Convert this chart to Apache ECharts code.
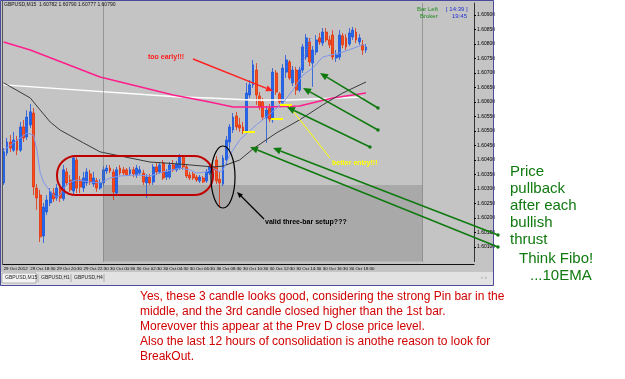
<!DOCTYPE html>
<html><head><meta charset="utf-8">
<script src="https://cdn.jsdelivr.net/npm/echarts@6/dist/echarts.min.js"></script>
<style>html,body{margin:0;padding:0;background:#fff}#c{width:625px;height:379px}</style>
</head><body><div id="c"></div>
<script>
// ---- data (GBPUSD M15, 29 Oct 16:30 .. 30 Oct 19:45) ----
const opens = [
1.60321,1.60424,1.60462,1.60434,1.60469,1.60434,1.60514,1.60479,1.60521,1.60562,
1.60303,1.60279,1.60138,1.60221,1.60252,1.60286,1.60269,1.60303,1.60266,1.60359,
1.60331,1.60293,1.60400,1.60331,1.60303,1.60321,1.60352,1.60317,1.60328,1.60303,
1.60321,1.60362,1.60372,1.60359,1.60286,1.60372,1.60366,1.60366,1.60352,1.60366,
1.60348,1.60355,1.60355,1.60321,1.60341,1.60324,1.60376,1.60359,1.60390,1.60341,
1.60341,1.60383,1.60366,1.60372,1.60410,1.60376,1.60348,1.60352,1.60341,1.60328,
1.60338,1.60328,1.60355,1.60376,1.60400,1.60334,1.60317,1.60400,1.60462,1.60503,
1.60552,1.60521,1.60514,1.60500,1.60624,1.60659,1.60710,1.60621,1.60600,1.60545,
1.60579,1.60538,1.60700,1.60628,1.60597,1.60703,1.60738,1.60666,1.60710,1.60641,
1.60710,1.60755,1.60807,1.60734,1.60772,1.60821,1.60803,1.60841,1.60814,1.60831,
1.60752,1.60755,1.60828,1.60821,1.60800,1.60824,1.60841,1.60807,1.60797,1.60779];
const highs = [
1.60441,1.60476,1.60486,1.60497,1.60483,1.60531,1.60538,1.60572,1.60593,1.60579,
1.60317,1.60297,1.60252,1.60279,1.60303,1.60303,1.60317,1.60314,1.60383,1.60372,
1.60348,1.60414,1.60414,1.60345,1.60359,1.60372,1.60366,1.60359,1.60338,1.60334,
1.60379,1.60383,1.60383,1.60369,1.60376,1.60383,1.60376,1.60372,1.60376,1.60376,
1.60383,1.60379,1.60366,1.60352,1.60352,1.60386,1.60390,1.60393,1.60400,1.60369,
1.60393,1.60400,1.60397,1.60421,1.60417,1.60383,1.60359,1.60359,1.60348,1.60348,
1.60345,1.60369,1.60383,1.60393,1.60414,1.60359,1.60417,1.60483,1.60524,1.60562,
1.60566,1.60545,1.60531,1.60666,1.60676,1.60745,1.60734,1.60634,1.60614,1.60586,
1.60593,1.60717,1.60710,1.60634,1.60731,1.60762,1.60745,1.60724,1.60721,1.60721,
1.60800,1.60834,1.60821,1.60793,1.60831,1.60838,1.60855,1.60855,1.60828,1.60848,
1.60779,1.60848,1.60838,1.60834,1.60855,1.60859,1.60855,1.60834,1.60814,1.60800];
const lows = [
1.60314,1.60414,1.60428,1.60428,1.60417,1.60428,1.60462,1.60469,1.60510,1.60279,
1.60228,1.60117,1.60114,1.60210,1.60241,1.60255,1.60259,1.60255,1.60259,1.60310,
1.60290,1.60279,1.60286,1.60286,1.60290,1.60310,1.60314,1.60307,1.60290,1.60297,
1.60310,1.60352,1.60355,1.60262,1.60279,1.60348,1.60348,1.60345,1.60345,1.60341,
1.60338,1.60348,1.60314,1.60269,1.60314,1.60314,1.60348,1.60352,1.60331,1.60331,
1.60334,1.60359,1.60359,1.60366,1.60366,1.60338,1.60331,1.60331,1.60324,1.60321,
1.60321,1.60321,1.60348,1.60359,1.60317,1.60235,1.60310,1.60383,1.60434,1.60493,
1.60503,1.60497,1.60490,1.60490,1.60614,1.60648,1.60590,1.60572,1.60538,1.60459,
1.60531,1.60528,1.60624,1.60593,1.60586,1.60683,1.60676,1.60655,1.60624,1.60634,
1.60700,1.60745,1.60724,1.60652,1.60762,1.60797,1.60793,1.60807,1.60786,1.60745,
1.60738,1.60745,1.60786,1.60779,1.60793,1.60814,1.60803,1.60797,1.60762,1.60769];
const closes = [
1.60428,1.60462,1.60441,1.60469,1.60434,1.60514,1.60476,1.60548,1.60566,1.60307,
1.60269,1.60135,1.60238,1.60262,1.60290,1.60266,1.60303,1.60269,1.60366,1.60321,
1.60297,1.60407,1.60303,1.60307,1.60338,1.60359,1.60324,1.60338,1.60303,1.60321,
1.60366,1.60372,1.60362,1.60290,1.60366,1.60355,1.60355,1.60348,1.60366,1.60352,
1.60372,1.60366,1.60324,1.60341,1.60321,1.60376,1.60359,1.60383,1.60338,1.60359,
1.60383,1.60366,1.60386,1.60410,1.60376,1.60345,1.60338,1.60338,1.60331,1.60341,
1.60324,1.60359,1.60376,1.60366,1.60328,1.60321,1.60407,1.60469,1.60514,1.60548,
1.60514,1.60510,1.60500,1.60631,1.60659,1.60728,1.60624,1.60583,1.60548,1.60572,
1.60541,1.60703,1.60634,1.60600,1.60717,1.60745,1.60683,1.60710,1.60641,1.60710,
1.60790,1.60821,1.60738,1.60779,1.60814,1.60807,1.60841,1.60814,1.60797,1.60755,
1.60762,1.60831,1.60797,1.60790,1.60838,1.60848,1.60814,1.60821,1.60779,1.60790];

// indicator lines (values read at a few bars)
const emaIdx = [0,3,7,9,10,11,12,13,15,16,17,18,20,22,26,29,32,35,40,44,48,53,56,58,61,63,65,66,68,71,76,79,84,87,90,93,96,102,108,109];
const emaVal = [1.60434,1.60459,1.60493,1.60486,1.60434,1.60355,1.60324,1.60307,1.60279,1.60272,
1.60279,1.60303,1.60324,1.60331,1.60324,1.60321,1.60338,1.60345,1.60348,1.60345,
1.60359,1.60372,1.60366,1.60355,1.60359,1.60372,1.60359,1.60366,1.60417,1.60469,
1.60521,1.60548,1.60597,1.60641,1.60693,1.60717,1.60755,1.60772,1.60797,1.60793];
const smaIdx = [0,8,11,14,17,24,29,35,44,53,63,66,71,75,82,89,96,102,109];
const smaVal = [1.60666,1.60614,1.60572,1.60531,1.60503,1.60459,1.60428,1.60414,1.60393,1.60386,1.60376,1.60379,1.60400,1.60438,1.60493,1.60538,1.60590,1.60631,1.60669];
const pinkIdx = [0,8,29,51,62,69,79,89,99,109];
const pinkVal = [1.60807,1.60779,1.60686,1.60624,1.60600,1.60583,1.60583,1.60586,1.60614,1.60631];
const whiteIdx = [0,53,62,74,86,108];
const whiteVal = [1.60659,1.60617,1.60614,1.60607,1.60607,1.60617];

const timeTickLabels = ["29 Oct 2012","29 Oct 18:30","29 Oct 20:30","29 Oct 22:30","30 Oct 00:30","30 Oct 02:30","30 Oct 04:30","30 Oct 06:30","30 Oct 08:30","30 Oct 10:30","30 Oct 12:30","30 Oct 14:30","30 Oct 16:30","30 Oct 18:30"];
const prevClose = 1.60314, blueLevel = 1.60524, bidPrice = 1.60790, lowLevel = 1.60050;
const separatorBars = [30, 126];
const totalSlots = 142;
const barsPerLabel = 8;

// ---- build ----
const categories = Array.from({length: totalSlots}, (_, i) => 'bar' + i);
const candleData = opens.map((o, i) => [o, closes[i], lows[i], highs[i]]);
const pairs = (ix, vs) => ix.map((x, k) => [x, vs[k]]);
const FONT = 'Liberation Sans, Arial, sans-serif';
const tickOk = (i) => i % barsPerLabel === 0 && (i / barsPerLabel) < timeTickLabels.length;

function arrowEls(x1, y1, x2, y2, color, w, hl, hw, tailDot) {
  const dx = x2 - x1, dy = y2 - y1, len = Math.hypot(dx, dy), ux = dx / len, uy = dy / len;
  const bx = x2 - ux * hl, by = y2 - uy * hl;
  const els = [
    {type: 'line', z: 100, shape: {x1: x1, y1: y1, x2: bx, y2: by}, style: {stroke: color, lineWidth: w}},
    {type: 'polygon', z: 100, shape: {points: [[x2, y2], [bx - uy * hw, by + ux * hw], [bx + uy * hw, by - ux * hw]]}, style: {fill: color}}
  ];
  if (tailDot) els.push({type: 'circle', z: 100, shape: {cx: x1, cy: y1, r: 1.7}, style: {fill: color}});
  return els;
}
function txt(x, y, text, fill, font, extra) {
  return Object.assign({type: 'text', z: 100, x: x, y: y,
    style: {text: text, fill: fill, font: font, textAlign: 'left', textVerticalAlign: 'middle', verticalAlign: 'middle'}}, extra || {});
}

const green = '#107a10';
const elements = [
  // window background and frame
  {type: 'rect', z: -10, shape: {x: 0, y: 0, width: 494, height: 286}, style: {fill: '#c4c4c4'}},
  {type: 'rect', z: -9, shape: {x: 1, y: 272, width: 492, height: 13}, style: {fill: '#e2e2e2'}},
  {type: 'rect', z: -8, shape: {x: 2, y: 273, width: 34, height: 10}, style: {fill: '#f4f4f4', stroke: '#888', lineWidth: 0.6}},
  {type: 'line', z: 5, shape: {x1: 2, y1: 264.5, x2: 474.5, y2: 264.5}, style: {stroke: '#111', lineWidth: 1}},
  {type: 'line', z: 5, shape: {x1: 2.5, y1: 0, x2: 2.5, y2: 265}, style: {stroke: '#555', lineWidth: 1}},
  {type: 'rect', z: 90, shape: {x: 0.5, y: 0.5, width: 493, height: 285}, style: {fill: 'transparent', stroke: '#4a4a9c', lineWidth: 1}},
  txt(5, 277.5, 'GBPUSD,M15', '#222', '5px ' + FONT),
  {type: 'line', z: 6, shape: {x1: 38, y1: 274, x2: 38, y2: 282}, style: {stroke: '#888', lineWidth: 0.6}},
  txt(41, 277.5, 'GBPUSD,H1', '#222', '5px ' + FONT),
  {type: 'line', z: 6, shape: {x1: 71, y1: 274, x2: 71, y2: 282}, style: {stroke: '#888', lineWidth: 0.6}},
  txt(74, 277.5, 'GBPUSD,H4', '#222', '5px ' + FONT),
  {type: 'line', z: 6, shape: {x1: 104, y1: 274, x2: 104, y2: 282}, style: {stroke: '#888', lineWidth: 0.6}},
  txt(481, 277.5, '\u2039 \u203A', '#888', '6px ' + FONT),
  // header texts
  txt(4, 5, 'GBPUSD,M15  1.60782 1.60790 1.60777 1.60790', '#111', '5px ' + FONT),
  txt(417, 9.5, 'Bar Left', '#1f8a1f', '6px ' + FONT),
  txt(446, 9.5, '[ 14:39 ]', '#2030d0', '6px ' + FONT),
  txt(420, 16, 'Broker', '#1f8a1f', '6px ' + FONT),
  txt(452, 16, '19:45', '#2030d0', '6px ' + FONT),
  // shapes on the chart
  {type: 'rect', z: 100, shape: {x: 57, y: 156, width: 156, height: 39, r: 19}, style: {fill: 'transparent', stroke: '#c00000', lineWidth: 2}},
  {type: 'ellipse', z: 100, shape: {cx: 223, cy: 177, rx: 12, ry: 31}, style: {fill: 'transparent', stroke: '#000', lineWidth: 1.2}},
  {type: 'line', z: 100, shape: {x1: 243, y1: 132, x2: 255, y2: 132}, style: {stroke: '#ffff00', lineWidth: 2}},
  {type: 'line', z: 100, shape: {x1: 271, y1: 119, x2: 283, y2: 119}, style: {stroke: '#ffff00', lineWidth: 2}},
  {type: 'line', z: 100, shape: {x1: 280, y1: 105, x2: 292, y2: 105}, style: {stroke: '#ffff00', lineWidth: 2}},
  {type: 'line', z: 100, shape: {x1: 289, y1: 106, x2: 330, y2: 158}, style: {stroke: '#ffff00', lineWidth: 1}},
  {type: 'line', z: 100, shape: {x1: 300, y1: 70, x2: 311, y2: 38}, style: {stroke: '#5a78ff', lineWidth: 1, lineDash: [1.5, 1.5]}},
  txt(148, 57, 'too early!!!', '#ff1a1a', 'bold 7px ' + FONT),
  txt(332, 163, 'better entry!!!', '#ffff00', 'bold 7px ' + FONT),
  txt(265, 222, 'valid three-bar setup???', '#000', 'bold 7px ' + FONT),
  // right-hand notes
  txt(510, 172, 'Price', green, '15px ' + FONT),
  txt(510, 189, 'pullback', green, '15px ' + FONT),
  txt(510, 206, 'after each', green, '15px ' + FONT),
  txt(510, 223, 'bullish', green, '15px ' + FONT),
  txt(510, 240, 'thrust', green, '15px ' + FONT),
  txt(519, 259, 'Think Fibo!', green, '15px ' + FONT),
  txt(530, 276, '...10EMA', green, '15px ' + FONT),
  // bottom comment
  txt(140, 297, 'Yes, these 3 candle looks good, considering the strong Pin bar in the', '#d00000', '12px ' + FONT),
  txt(140, 312, 'middle, and the 3rd candle closed higher than the 1st bar.', '#d00000', '12px ' + FONT),
  txt(140, 327, 'Morevover this appear at the Prev D close price level.', '#d00000', '12px ' + FONT),
  txt(140, 342, 'Also the last 12 hours of consolidation is anothe reason to look for', '#d00000', '12px ' + FONT),
  txt(140, 357, 'BreakOut.', '#d00000', '12px ' + FONT)
].concat(
  arrowEls(193, 59, 273, 91, '#ff2222', 1.5, 7, 3, false),
  arrowEls(264, 219, 237, 192, '#000', 1.2, 6, 2.5, false),
  arrowEls(378, 108, 320, 73, green, 1.6, 8, 3.5, true),
  arrowEls(378, 130, 303, 88, green, 1.6, 8, 3.5, true),
  arrowEls(370, 147, 287, 107, green, 1.6, 8, 3.5, true),
  arrowEls(498, 235, 273, 148, green, 1.6, 8, 3.5, true),
  arrowEls(498, 247, 250, 147, green, 1.6, 8, 3.5, true)
);

const boxLabel = (bg) => ({show: true, position: 'end', distance: 2, formatter: (p) => p.value.toFixed(5),
  backgroundColor: bg, color: '#fff', fontSize: 5, fontFamily: FONT, padding: [1, 1]});

const option = {
  animation: false,
  backgroundColor: '#ffffff',
  grid: {left: 2, right: 151, top: 3, bottom: 117.5, containLabel: false},
  xAxis: {
    type: 'category', data: categories, boundaryGap: true,
    axisLine: {show: false},
    axisTick: {show: false},
    axisLabel: {interval: (i) => tickOk(i), formatter: (v, i) => timeTickLabels[i / barsPerLabel] || '',
      fontSize: 4.4, fontFamily: FONT, color: '#000', align: 'left', margin: 5,
      hideOverlap: false, showMinLabel: true, showMaxLabel: true},
    splitLine: {show: false}
  },
  yAxis: {
    type: 'value', position: 'right', min: lowLevel, max: 1.609413, interval: 0.0005,
    axisLine: {show: true, lineStyle: {color: '#333', width: 1}},
    axisTick: {show: true, length: 2, lineStyle: {color: '#000'}},
    axisLabel: {formatter: (v) => v.toFixed(5), fontSize: 5, fontFamily: FONT, color: '#000', margin: 3,
      showMaxLabel: false, showMinLabel: false},
    splitLine: {show: false}
  },
  graphic: {elements: elements},
  series: [
    {
      type: 'candlestick', data: candleData, barWidth: 2.4, z: 3,
      itemStyle: {color: '#2266ee', color0: '#ff4d1a', borderColor: '#1a55dd', borderColor0: '#e0300c', borderWidth: 0.8},
      markArea: {silent: true, itemStyle: {color: '#a9a9a9'},
        data: [[{xAxis: separatorBars[0], yAxis: prevClose}, {xAxis: separatorBars[1], yAxis: lowLevel}]]},
      markLine: {
        silent: true, symbol: ['none', 'none'], animation: false,
        data: [
          {xAxis: separatorBars[0], lineStyle: {color: '#6a6a6a', type: 'dotted', width: 1}, label: {show: false}},
          {xAxis: separatorBars[1], lineStyle: {color: '#6a6a6a', type: 'dotted', width: 1}, label: {show: false}},
          {yAxis: prevClose, lineStyle: {color: '#1e1e1e', type: 'solid', width: 1}, label: boxLabel('#000')},
          {yAxis: blueLevel, lineStyle: {color: '#3048c0', type: 'dotted', width: 1}, label: boxLabel('#1c2ca8')},
          {yAxis: bidPrice, lineStyle: {color: '#a4a4a4', type: 'solid', width: 2}, label: boxLabel('#000')},
          {yAxis: lowLevel, lineStyle: {color: '#3048c0', type: 'dotted', width: 1}, label: boxLabel('#1c2ca8')}
        ]
      }
    },
    {type: 'line', data: pairs(whiteIdx, whiteVal), showSymbol: false, z: 4, lineStyle: {color: '#ffffff', width: 1.5}},
    {type: 'line', data: pairs(pinkIdx, pinkVal), showSymbol: false, z: 4, lineStyle: {color: '#ff1e8c', width: 1.5}},
    {type: 'line', data: pairs(smaIdx, smaVal), showSymbol: false, z: 4, lineStyle: {color: '#3a3a3a', width: 1}},
    {type: 'line', data: pairs(emaIdx, emaVal), showSymbol: false, z: 4, lineStyle: {color: '#7d96ec', width: 1}}
  ]
};
const chart = echarts.init(document.getElementById('c'), null, {renderer: 'canvas', width: 625, height: 379});
chart.setOption(option);
</script></body></html>
